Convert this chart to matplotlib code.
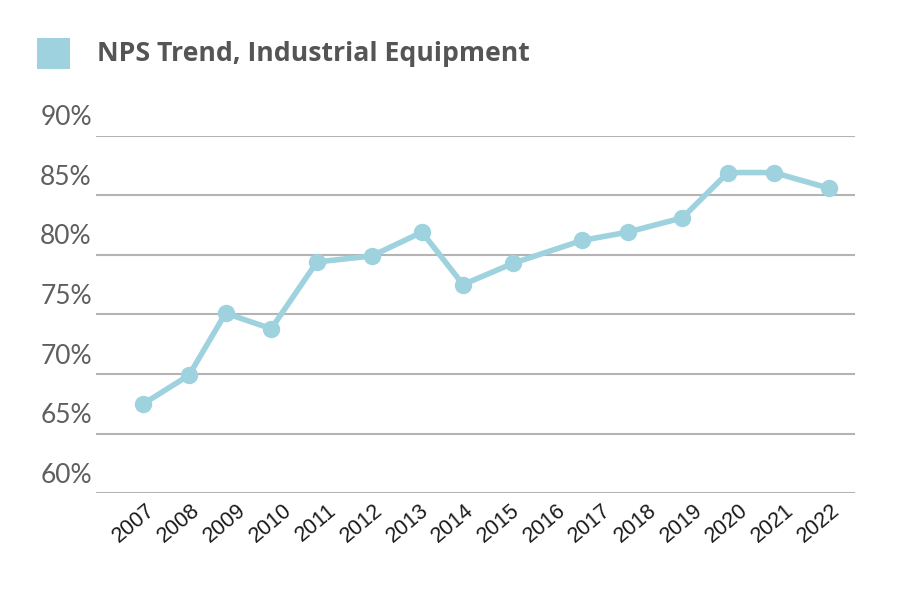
import matplotlib
matplotlib.use("Agg")
import matplotlib.pyplot as plt
import matplotlib.transforms as mtransforms
from matplotlib.patches import Rectangle

# data (x in fractional years)
years = [2007.0, 2008.0, 2008.8, 2009.8, 2010.8, 2012.0, 2013.1, 2014.0,
         2015.1, 2016.6, 2017.6, 2018.8, 2019.8, 2020.8, 2022.0]
nps = [67.5, 69.9, 75.1, 73.8, 79.4, 79.9, 81.9, 77.5,
       79.3, 81.2, 81.9, 83.1, 86.9, 86.9, 85.6]
tick_years = list(range(2007, 2023))
y_ticks = [60, 65, 70, 75, 80, 85, 90]

line_color = '#9dd2de'
grid_color = '#b4b4b4'

fig = plt.figure(figsize=(9, 6), dpi=100)
ax = fig.add_axes([0.107, 0.178, 0.843, 0.596])

# gridlines
for y in y_ticks:
    ax.axhline(y, color=grid_color, lw=1.5, zorder=1)

ax.plot(years, nps, color=line_color, lw=4, marker='o', markersize=11.5,
        solid_capstyle='butt', zorder=3)

ax.set_ylim(60, 90)
ax.set_xlim(2005.97, 2022.58)

for s in ax.spines.values():
    s.set_visible(False)

ax.set_yticks([])
# y labels sit above their gridline, left aligned
for y in y_ticks:
    ax.text(-0.074, y + 0.45, f'{y}%', transform=ax.get_yaxis_transform(),
            ha='left', va='bottom', fontsize=19, color='#5f5f5f',
            family='Lato', fontweight='normal')

ax.set_xticks(tick_years)
ax.set_xticklabels([str(t) for t in tick_years], rotation=40, ha='center',
                   fontsize=15.5, color='#1a1a1a', family='Liberation Sans')
ax.tick_params(axis='x', length=0, pad=5)
off = mtransforms.ScaledTranslation(-10 / 100, 0, fig.dpi_scale_trans)
for lab in ax.get_xticklabels():
    lab.set_transform(lab.get_transform() + off)

# legend-like title
fig.patches.append(Rectangle((37 / 900, 1 - 69 / 600), 33 / 900, 31 / 600,
                             transform=fig.transFigure, facecolor=line_color,
                             edgecolor='none'))
fig.text(97 / 900, 1 - 54 / 600, 'NPS Trend, Industrial Equipment',
         fontsize=19.2, fontweight='bold', color='#555555', family='Open Sans',
         ha='left', va='center')

fig.savefig('out.png', dpi=100)
